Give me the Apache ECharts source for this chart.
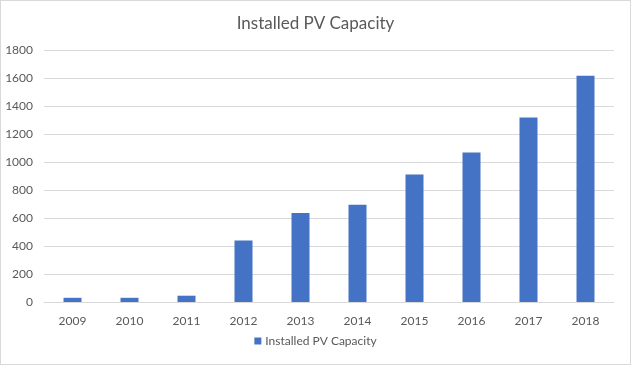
<!DOCTYPE html>
<html>
<head>
<meta charset="utf-8">
<script src="https://cdn.jsdelivr.net/npm/echarts@6/dist/echarts.min.js"></script>
<style>
html,body{margin:0;padding:0;background:#fff;}
#c{width:631px;height:365px;box-sizing:border-box;border:1px solid #d9d9d9;}
</style>
</head>
<body>
<div id="c"></div>
<script>
var title = 'Installed PV Capacity';
var seriesName = 'Installed PV Capacity';
var years = ['2009','2010','2011','2012','2013','2014','2015','2016','2017','2018'];
var capacity = [30, 30, 45, 440, 635, 695, 910, 1068, 1317, 1616];
var yTicks = [0, 200, 400, 600, 800, 1000, 1200, 1400, 1600, 1800];

var chart = echarts.init(document.getElementById('c'));
var font = 'Lato, "Open Sans", sans-serif';
chart.setOption({
  animation: false,
  title: {
    text: title, left: 'center', top: 9,
    textStyle: {fontFamily: font, fontSize: 17, fontWeight: 'normal', color: '#595959'}
  },
  legend: {
    bottom: 12, left: 'center', itemWidth: 7, itemHeight: 7, itemGap: 5,
    icon: 'rect',
    textStyle: {fontFamily: font, fontSize: 12, color: '#595959', padding: [0,0,0,-1]},
    data: [seriesName]
  },
  grid: {left: 43, right: 16, top: 49, bottom: 62, containLabel: false},
  xAxis: {
    type: 'category', data: years,
    axisLine: {lineStyle: {color: '#d9d9d9', width: 1}},
    axisTick: {show: false},
    axisLabel: {fontFamily: font, fontSize: 12, color: '#595959', margin: 13}
  },
  yAxis: {
    type: 'value', min: yTicks[0], max: yTicks[yTicks.length-1], interval: 200,
    axisLine: {show: false}, axisTick: {show: false},
    splitLine: {lineStyle: {color: '#d9d9d9', width: 1}},
    axisLabel: {fontFamily: font, fontSize: 12, color: '#595959', margin: 11,
      formatter: function (v) { return String(v); }}
  },
  series: [{
    name: seriesName, type: 'bar', data: capacity,
    barWidth: 18,
    itemStyle: {color: '#4472c4'}
  }]
});
</script>
</body>
</html>
